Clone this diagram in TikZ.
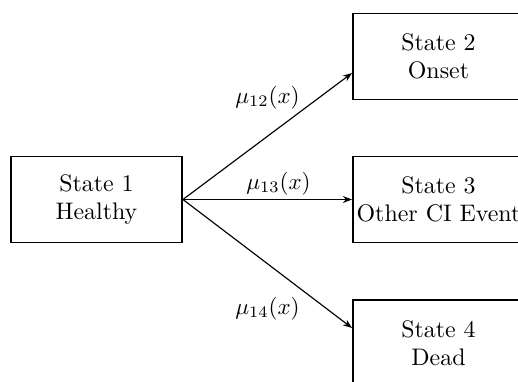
\documentclass[tikz,border=0pt]{standalone}
\usetikzlibrary{arrows.meta,calc}
\begin{document}
\begin{tikzpicture}[x=0.435pt,y=-0.435pt,
  statebox/.style={draw,line width=0.8pt,minimum width=74.4pt,minimum height=37.4pt,align=center,inner sep=0pt,font=\fontsize{10.4}{12.4}\selectfont},
  trans/.style={-{Stealth[length=4pt,width=3pt]},line width=0.5pt},
  rate/.style={inner sep=0pt}]
\useasboundingbox (0,0) rectangle (518,382);
\clip (0,0) rectangle (518,382);
\node[statebox] (s1) at (96.5,199.5) {State 1\\Healthy};
\node[statebox] (s2) at (438.5,56.5) {State 2\\Onset};
\node[statebox] (s3) at (438.5,199.5) {State 3\\Other CI Event};
\node[statebox] (s4) at (438.5,343) {State 4\\Dead};
\coordinate (t2) at ($(s2.west)+(0,16.5)$);
\coordinate (t4) at ($(s4.west)+(0,-15)$);
\draw[trans] (s1.east) -- (t2) node[rate,pos=0.5,shift={(0,-39)}] {$\mu_{12}(x)$};
\draw[trans] (s1.east) -- (s3.west) node[rate,pos=0.5,shift={(11,-16)}] {$\mu_{13}(x)$};
\draw[trans] (s1.east) -- (t4) node[rate,pos=0.5,shift={(0,45)}] {$\mu_{14}(x)$};
\end{tikzpicture}
\end{document}
